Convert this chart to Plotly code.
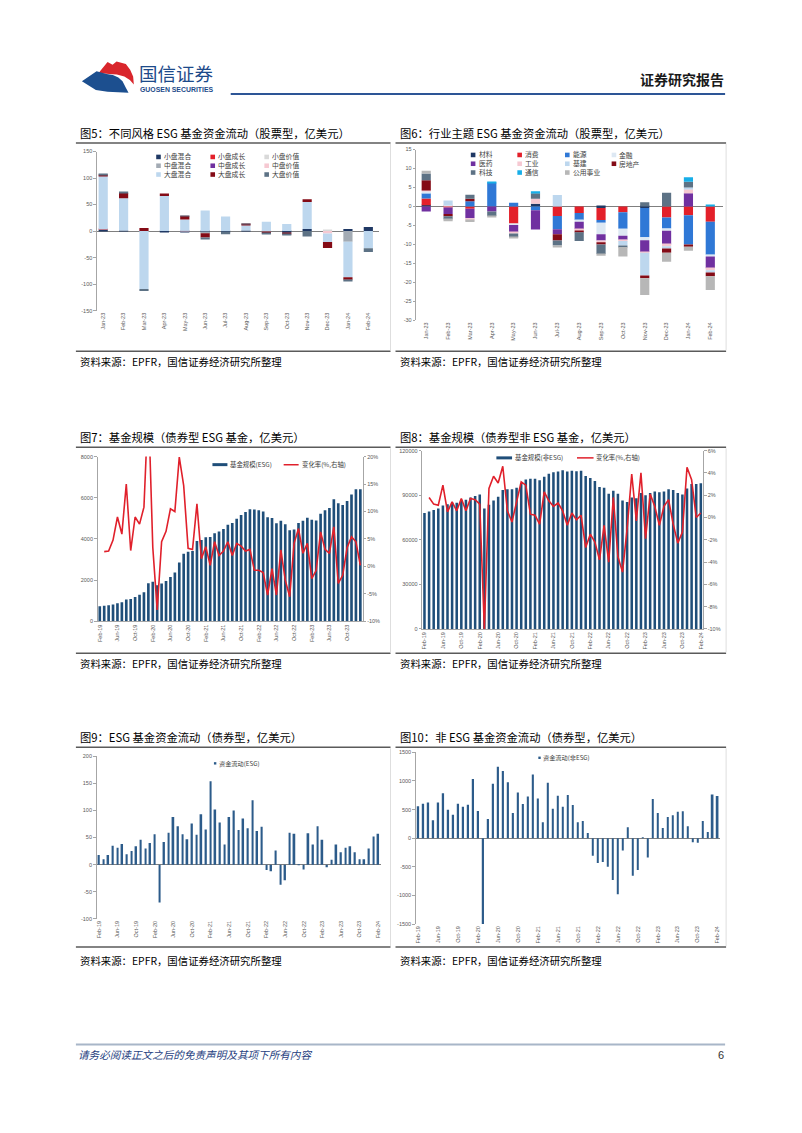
import plotly.graph_objects as go

W, H = 802, 1133

# ------------------------------------------------------------------ data
MONTHS_5 = ["Jan-23", "Feb-23", "Mar-23", "Apr-23", "May-23", "Jun-23", "Jul-23",
            "Aug-23", "Sep-23", "Oct-23", "Nov-23", "Dec-23", "Jan-24", "Feb-24"]

# Fig5: style flows (equity ESG funds, 100m USD)
STYLE_NAMES = ["小盘混合", "小盘成长", "小盘价值", "中盘混合", "中盘成长", "中盘价值",
               "大盘混合", "大盘成长", "大盘价值"]
STYLE_COLORS = ["#1f3864", "#e3202a", "#d9d9d9", "#a3abb4", "#7030a0", "#f6c9d2",
                "#bdd7ee", "#840b16", "#5d7285"]
small_blend = [3, 1, 0, -1.5, -1, -1, -1, 1, 0, -3, 4, 0, 4, 7.5]
small_growth = [0.5, 0, 0, 0, 0, 0, 0, 0, 0, 0, 0, 0, 0, 0]
small_value = [0, 0, 0, 0, 0, 0, 0, 0, 0, 0, 0, 2, 0, 0]
mid_blend = [0, 0, 0, 0, 0, -3, 0, 0, -1, 0, 0, 0, -20, 0]
mid_growth = [0, 0, 0, 0, 0, 0, 0, 0, 0, 0, 0, 0, 0, 0]
mid_value = [0, 0, 0, 0, 0.8, 0, 0, 0, 0, 0, 0, -4.4, 0, 0]
large_blend = [100, 61, -109, 66, 21, 39, 27.5, 10, 17.5, 13.5, 51, -16, -67, -32.5]
large_growth = [1.5, 10, 6, 5, 7, -8, 0, 1.5, -3, -3, 5, -11.5, -4.5, 0]
large_value = [2, 2, -4, 0, 0.5, -4, -5, 1, -1, -1, -10, 0, -3, -7]
STYLE_SERIES = [small_blend, small_growth, small_value, mid_blend, mid_growth, mid_value,
                large_blend, large_growth, large_value]
STYLE_TICKS = [-150, -100, -50, 0, 50, 100, 150]

# Fig6: sector flows (equity ESG funds, 100m USD)
SECTOR_NAMES = ["材料", "消费", "能源", "金融", "医药", "工业", "基建", "房地产",
                "科技", "通信", "公用事业"]
SECTOR_COLORS = ["#1f3864", "#e3202a", "#2f78d6", "#dde8f3", "#7030a0", "#f6c9d2",
                 "#bdd7ee", "#840b16", "#5d7285", "#17aee8", "#b7b7b7"]
materials = [0.3, 0, 0, 0, 0, 0.7, 0, 0, -0.4, 0, -0.4, 0, 0, 0]
consumer = [1.8, -0.3, -0.6, 0, -4.5, 0, -2.5, -1.7, -3.2, -1.5, 0, -2.9, -2.3, -4.0]
energy = [1.4, 0, 1.4, 6.3, 1.0, -1.0, -3.5, -1.9, -0.7, -4.4, -7.7, -2.9, -7.7, -8.7]
financials = [0.5, 0.3, 0, 0, -0.4, 0, 0, -0.4, -3.0, -1.8, -0.8, -0.6, 0, -0.5]
healthcare = [-1.3, -1.7, -2.5, -1.3, -1.9, -5.1, -1.3, -2.0, -1.7, -1.1, -3.1, -3.6, 3.5, -3.1]
industrials = [0.2, 0, -0.6, 0, -0.3, 1.3, 0, -0.4, -0.4, -0.3, -0.2, -0.5, 1.0, -0.5]
infrastructure = [0, 1.3, 0, 0, 0, 0, 3.0, 0, 0, -1.2, -6.0, -0.6, 0.5, -0.6]
real_estate = [2.7, -0.6, 0.6, 0, 0, 0, -1.7, -0.4, -0.6, 0, -0.7, -1.1, -0.6, -1.0]
technology = [1.8, -0.8, 1.1, -1.2, -1.0, 1.5, -1.3, -2.3, -2.5, -0.4, 1.1, 3.6, 1.5, 0]
telecom = [0, 0, 0, 0.1, 0, 0.5, 0, 0, 0, 0, 0, 0, 1.2, 0.3]
utilities = [0.7, -0.5, -0.4, -0.3, -0.3, 0, -0.5, 0, -0.5, -2.5, -4.4, -2.4, -1.1, -3.6]
SECTOR_SERIES = [materials, consumer, energy, financials, healthcare, industrials,
                 infrastructure, real_estate, technology, telecom, utilities]
SECTOR_TICKS = [-30, -25, -20, -15, -10, -5, 0, 5, 10, 15]

# Monthly categories Feb-19 .. Feb-24
MONTHS = ["Feb-19", "Mar-19", "Apr-19", "May-19", "Jun-19", "Jul-19", "Aug-19", "Sep-19",
          "Oct-19", "Nov-19", "Dec-19",
          "Jan-20", "Feb-20", "Mar-20", "Apr-20", "May-20", "Jun-20", "Jul-20", "Aug-20",
          "Sep-20", "Oct-20", "Nov-20", "Dec-20",
          "Jan-21", "Feb-21", "Mar-21", "Apr-21", "May-21", "Jun-21", "Jul-21", "Aug-21",
          "Sep-21", "Oct-21", "Nov-21", "Dec-21",
          "Jan-22", "Feb-22", "Mar-22", "Apr-22", "May-22", "Jun-22", "Jul-22", "Aug-22",
          "Sep-22", "Oct-22", "Nov-22", "Dec-22",
          "Jan-23", "Feb-23", "Mar-23", "Apr-23", "May-23", "Jun-23", "Jul-23", "Aug-23",
          "Sep-23", "Oct-23", "Nov-23", "Dec-23",
          "Jan-24", "Feb-24"]
MONTH_TICKS_7 = ["Feb-19", "Jun-19", "Oct-19", "Feb-20", "Jun-20", "Oct-20", "Feb-21",
                 "Jun-21", "Oct-21", "Feb-22", "Jun-22", "Oct-22", "Feb-23", "Jun-23", "Oct-23"]
MONTH_TICKS = MONTH_TICKS_7 + ["Feb-24"]
MONTHS_7 = MONTHS[:60]

# Fig7: ESG bond fund AUM (100m USD) and monthly change (%)
esg_aum = [740, 760, 780, 820, 880, 930, 1060, 1090, 1190, 1290, 1420,
           1850, 1920, 1760, 1840, 1960, 2160, 2380, 2860, 3280, 3380, 3420, 3900,
           3950, 4090, 4100, 4280, 4370, 4490, 4690, 4780, 4980, 5160, 5310, 5450,
           5430, 5390, 5330, 5050, 5020, 4760, 4880, 4720, 4430, 4460, 4780, 4880,
           5030, 4930, 4900, 5230, 5400, 5510, 5930, 5730, 5650, 5840, 6160, 6420,
           6420]
esg_aum_chg = [None, 2.7, 2.8, 4.8, 9.0, 5.9, 15.0, 2.9, 9.0, 7.7, 10.8,
               30.0, 3.5, -7.9, 4.5, 6.4, 10.5, 10.0, 19.9, 14.7, 3.3, 3.1, 11.4,
               1.4, 3.6, 0.2, 4.5, 2.0, 2.8, 4.5, 2.0, 4.2, 3.7, 2.8, 3.1,
               -0.7, -0.7, -1.1, -5.2, -0.4, -5.2, 3.0, -2.5, -5.5, 4.2, 6.9, 2.4,
               4.2, -2.2, -0.7, 6.3, 3.1, 2.4, 7.2, -3.1, -1.6, 3.4, 5.4, 4.5,
               0.2]
AUM7_TICKS = [0, 2000, 4000, 6000, 8000]
CHG7_TICKS = [-10, -5, 0, 5, 10, 15, 20]

# Fig8: non-ESG bond fund AUM (100m USD) and monthly change (%)
non_esg_aum = [78000, 79000, 80000, 81000, 83000, 84000, 85000, 85000, 87000, 87000, 88500,
               89500, 90500, 81000, 83500, 86500, 89000, 93500, 94000, 94000, 95000, 98000, 100500,
               101000, 101000, 100000, 102500, 104500, 105500, 106000, 106800, 106000, 106500, 106200, 106500,
               103000, 101500, 99500, 95500, 95000, 91000, 93000, 91000, 86500, 85500, 88500, 88000,
               91500, 90000, 91500, 92500, 92000, 92500, 94000, 93500, 91500, 90500, 94500, 97500,
               97500, 98000]
non_esg_chg = [None, 1.8, 1.2, 1.1, 2.9, 0.5, 1.4, 0.6, 1.7, 0.6, 1.7,
               1.6, 1.2, -10.0, 2.6, 3.7, 3.1, 4.6, 0.6, -0.4, 1.5, 3.2, 2.9,
               0.3, 0.2, -0.6, 2.3, 1.5, 1.0, 1.3, 0.6, -0.7, 0.4, -0.2, 0.2,
               -2.7, -1.5, -2.2, -3.8, -0.7, -4.0, 1.8, -3.5, -4.9, -1.0, 3.9, -0.3,
               4.0, -1.9, 2.1, 1.0, -0.7, 1.0, 1.6, -0.6, -2.3, -1.3, 4.5, 3.4,
               0.0, 0.4]
AUM8_TICKS = [0, 30000, 60000, 90000, 120000]
CHG8_TICKS = [-10, -8, -6, -4, -2, 0, 2, 4, 6]

# Fig9: ESG bond fund flows (100m USD)
esg_flow = [18, 10, 18, 35, 31, 38, 19, 25, 34, 46, 30,
            40, 56, -70, 42, 59, 88, 71, 56, 47, 76, 55, 93,
            65, 154, 102, 78, 37, 88, 100, 64, 85, 67, 119, 62,
            70, -10, -12, 26, -37, -29, 59, 57, -1, -9, 58, 37,
            71, 46, -5, 9, 37, 23, 31, 34, 23, 10, 10, 30,
            52, 57]
FLOW9_TICKS = [-100, -50, 0, 50, 100, 150, 200]

# Fig10: non-ESG bond fund flows (100m USD)
non_esg_flow = [560, 600, 625, 313, 625, 787, 498, 411, 602, 550, 585,
                1036, 475, -1510, 336, 950, 1250, 1175, 979, 440, 800, 596, 730,
                1112, 695, 278, 967, 515, 741, 550, 753, 579, 278, 301, 93,
                -307, -434, -417, -498, -730, -979, -214, 191, -654, -556, 10, -336,
                683, 440, 180, 371, 400, 463, 469, 208, -69, -81, 301, 110,
                764, 735]
FLOW10_TICKS = [-1500, -1000, -500, 0, 500, 1000, 1500]

# ------------------------------------------------------------------ helpers
def px(x):
    return x / W


def py(y):
    return 1 - y / H


CJK = "Noto Sans CJK SC"
LAT = "Liberation Sans, Arial, sans-serif"
TICKFONT = dict(family=LAT, size=5.5, color="#595959")
AXCOL = "#a6a6a6"
BAR_NAVY = "#1f4e79"
BAR_BLUE = "#2c5b8a"
RED_LINE = "#e0202b"

fig = go.Figure()

# Fig5 bars
for name, vals, col in zip(STYLE_NAMES, STYLE_SERIES, STYLE_COLORS):
    fig.add_trace(go.Bar(x=MONTHS_5, y=vals, name=name, width=0.45,
                         marker=dict(color=col, line=dict(width=0)),
                         xaxis="x", yaxis="y", showlegend=False))
# Fig6 bars
for name, vals, col in zip(SECTOR_NAMES, SECTOR_SERIES, SECTOR_COLORS):
    fig.add_trace(go.Bar(x=MONTHS_5, y=vals, name=name, width=0.42,
                         marker=dict(color=col, line=dict(width=0)),
                         xaxis="x2", yaxis="y2", showlegend=False))
# Fig7
fig.add_trace(go.Bar(x=MONTHS_7, y=esg_aum, name="基金规模(ESG)", width=0.6,
                     marker=dict(color=BAR_NAVY, line=dict(width=0)),
                     xaxis="x3", yaxis="y3", showlegend=False))
fig.add_trace(go.Scatter(x=MONTHS_7, y=esg_aum_chg, name="变化率(%,右轴)", mode="lines",
                         line=dict(color=RED_LINE, width=1.6), connectgaps=False,
                         xaxis="x3", yaxis="y4", showlegend=False))
# Fig8
fig.add_trace(go.Bar(x=MONTHS, y=non_esg_aum, name="基金规模(非ESG)", width=0.55,
                     marker=dict(color=BAR_NAVY, line=dict(width=0)),
                     xaxis="x4", yaxis="y5", showlegend=False))
fig.add_trace(go.Scatter(x=MONTHS, y=non_esg_chg, name="变化率(%,右轴)", mode="lines",
                         line=dict(color=RED_LINE, width=1.6),
                         xaxis="x4", yaxis="y6", showlegend=False))
# Fig9
fig.add_trace(go.Bar(x=MONTHS, y=esg_flow, name="资金流动(ESG)", width=0.36,
                     marker=dict(color=BAR_BLUE, line=dict(width=0)),
                     xaxis="x5", yaxis="y7", showlegend=False))
# Fig10
fig.add_trace(go.Bar(x=MONTHS, y=non_esg_flow, name="资金流动(非ESG)", width=0.34,
                     marker=dict(color=BAR_BLUE, line=dict(width=0)),
                     xaxis="x6", yaxis="y8", showlegend=False))


def xcat(dom, anchor, rng, tickvals=None, showline=False):
    d = dict(domain=[px(dom[0]), px(dom[1])], anchor=anchor, type="category",
             range=rng, tickangle=-90, tickfont=TICKFONT, showgrid=False,
             zeroline=False, showline=showline, linecolor=AXCOL, linewidth=1,
             ticks="", fixedrange=True)
    if tickvals is not None:
        d["tickmode"] = "array"
        d["tickvals"] = tickvals
        d["ticktext"] = tickvals
    return d


def yval(dom, anchor, rng, tickvals, ticktext=None, zeroline=False, side="left",
         overlaying=None):
    d = dict(anchor=anchor, range=rng, tickmode="array", tickvals=tickvals,
             ticktext=ticktext if ticktext is not None else [str(v) for v in tickvals],
             tickfont=TICKFONT, showgrid=False, showline=True, linecolor=AXCOL,
             linewidth=1, ticks="outside", ticklen=2.5, tickcolor=AXCOL,
             zeroline=zeroline, zerolinecolor="#7f7f7f", zerolinewidth=1,
             side=side, fixedrange=True)
    if overlaying:
        d["overlaying"] = overlaying
    else:
        d["domain"] = [py(dom[1]), py(dom[0])]
    return d


layout = dict(
    width=W, height=H, margin=dict(l=0, r=0, t=0, b=0),
    paper_bgcolor="white", plot_bgcolor="rgba(0,0,0,0)",
    barmode="relative", font=dict(family=CJK, color="#000"),
    showlegend=False,
    xaxis=xcat((96, 378), "y", [-0.31, 13.5]),
    yaxis=yval((149.3, 309.3), "x", [-150, 150], STYLE_TICKS, zeroline=True),
    xaxis2=xcat((415.7, 723.3), "y2", [-0.46, 13.6]),
    yaxis2=yval((147.3, 319), "x2", [-30, 15], SECTOR_TICKS, zeroline=True),
    xaxis3=xcat((96.7, 362), "y3", [-0.5, 59.5], MONTH_TICKS_7, showline=True),
    yaxis3=yval((456, 621.7), "x3", [0, 8000], AUM7_TICKS),
    yaxis4=yval(None, "x3", [-10, 20], CHG7_TICKS, [f"{v}%" for v in CHG7_TICKS],
                side="right", overlaying="y3"),
    xaxis4=xcat((421.7, 703), "y5", [-0.5, 60.5], MONTH_TICKS, showline=True),
    yaxis5=yval((450, 629.3), "x4", [0, 120000], AUM8_TICKS),
    yaxis6=yval(None, "x4", [-10, 6], CHG8_TICKS, [f"{v}%" for v in CHG8_TICKS],
                side="right", overlaying="y5"),
    xaxis5=xcat((95.7, 380), "y7", [-0.5, 60.5], MONTH_TICKS),
    yaxis7=yval((757.3, 920.7), "x5", [-100, 200], FLOW9_TICKS, zeroline=True),
    xaxis6=xcat((415.3, 720), "y8", [-0.5, 60.5], MONTH_TICKS),
    yaxis8=yval((753.3, 926), "x6", [-1500, 1500], FLOW10_TICKS, zeroline=True),
)

shapes = []
annotations = []


def hline(x0, x1, y, color, width):
    shapes.append(dict(type="line", xref="paper", yref="paper", x0=px(x0), x1=px(x1),
                       y0=py(y), y1=py(y), line=dict(color=color, width=width)))


def vline(x, y0, y1, color, width):
    shapes.append(dict(type="line", xref="paper", yref="paper", x0=px(x), x1=px(x),
                       y0=py(y0), y1=py(y1), line=dict(color=color, width=width)))


def rect(x0, y0, x1, y1, color):
    shapes.append(dict(type="rect", xref="paper", yref="paper", x0=px(x0), x1=px(x1),
                       y0=py(y1), y1=py(y0), fillcolor=color, line=dict(width=0)))


def poly(points, color):
    path = "M " + " L ".join(f"{px(x):.5f},{py(y):.5f}" for x, y in points) + " Z"
    shapes.append(dict(type="path", xref="paper", yref="paper", path=path,
                       fillcolor=color, line=dict(width=0)))


def text(x, y, s, size, color="#000", anchor="left", family=CJK, align="left", **fkw):
    annotations.append(dict(x=px(x), y=py(y), xref="paper", yref="paper", text=s,
                            showarrow=False, xanchor=anchor, yanchor="middle",
                            align=align,
                            font=dict(family=family, size=size, color=color, **fkw),
                            borderpad=0))


# ---------------- header
poly([(97.7, 70.3), (106.7, 59.3), (111.7, 62), (115.7, 58.7), (125, 61.3), (129.3, 67),
      (132.3, 74), (133, 82), (129, 77.5), (123.5, 74), (116, 72), (108.3, 71.3)], "#d9262c")
poly([(81, 78.7), (95.7, 68.7), (105.7, 71.3), (112, 72.5), (117.5, 75), (121.7, 78.7),
      (125, 85.3), (127.7, 90.3), (106.7, 89.2), (95, 87.5)], "#1c4f8f")
text(137, 70.5, "国信证券", 18.5, "#1d4a8a")
text(138.5, 87.2, "GUOSEN SECURITIES", 6.9, "#1d4a8a", family=LAT, weight="bold")
text(725, 76, "<b>证券研究报告</b>", 14, "#1a1a1a", anchor="right")
hline(230, 725, 91.5, "#2d5596", 2)

# ---------------- footer
hline(75, 725, 1047, "#a8b6c8", 2)
text(76, 1057.5, "请务必阅读正文之后的免责声明及其项下所有内容", 10.6, "#1f3f7f", style="italic")
text(725, 1057.5, "6", 11, "#333", anchor="right", family=LAT)

# ---------------- panel frames / titles / sources
TITLES = ["图5：不同风格 ESG 基金资金流动（股票型，亿美元）",
          "图6：行业主题 ESG 基金资金流动（股票型，亿美元）",
          "图7：基金规模（债券型 ESG 基金，亿美元）",
          "图8：基金规模（债券型非 ESG 基金，亿美元）",
          "图9：ESG 基金资金流动（债券型，亿美元）",
          "图10：非 ESG 基金资金流动（债券型，亿美元）"]
SOURCE = "资料来源：EPFR，国信证券经济研究所整理"
rows = [(130.7, 140.7, 350.0, 360.7), (436.7, 446.7, 653.7, 664.0), (738.3, 748.3, 949.0, 962.3)]
cols = [(75, 390, 78.3), (395, 726, 398.3)]
i = 0
for (ty, tl, sl, sy) in rows:
    for (x0, x1, tx) in cols:
        text(tx, ty, TITLES[i], 11.3, "#000")
        hline(x0, x1, tl, "#5a5a5a", 1.5)
        hline(x0, x1, sl, "#5a5a5a", 1.5)
        vline(x1, tl + 1, sl - 1, "#dedede", 1)
        text(tx, sy, SOURCE, 10.4, "#000")
        i += 1


# ---------------- legends (drawn from the series names / colours)
def grid_legend(names, colors, col_x, mid_y, ncol, fsize, msize):
    """One multi-line text per legend column, markers at the line positions."""
    nrow = (len(names) + ncol - 1) // ncol
    step = 1.3 * fsize
    for c in range(ncol):
        idx = list(range(c, len(names), ncol))
        lines = [names[k] for k in idx]
        top = mid_y - step * (nrow - 1) / 2
        block_mid = top + step * (len(lines) - 1) / 2
        text(col_x[c] + msize / 2 + 2.2, block_mid, "<br>".join(lines), fsize, "#404040")
        for r, k in enumerate(idx):
            cy = top + r * step + 0.3
            rect(col_x[c] - msize / 2, cy - msize / 2, col_x[c] + msize / 2, cy + msize / 2,
                 colors[k])


grid_legend(STYLE_NAMES, STYLE_COLORS, [157.7, 212.0, 266.0], 163.3, 3, 6.8, 4.6)
grid_legend(SECTOR_NAMES, SECTOR_COLORS, [472.7, 519.3, 567.0, 613.7], 161.3, 4, 6.8, 4.6)

# Fig7 legend
rect(211.7, 462.6, 226.7, 465.6, BAR_NAVY)
text(228.5, 464.2, "基金规模(ESG)", 6.4, "#404040")
hline(283, 298, 464.2, RED_LINE, 1.5)
text(300.5, 464.2, "变化率(%,右轴)", 6.4, "#404040")
# Fig8 legend
rect(496, 455.8, 511.7, 458.8, BAR_NAVY)
text(513.5, 457.3, "基金规模(非ESG)", 6.4, "#404040")
hline(576.7, 593.3, 457.3, RED_LINE, 1.5)
text(595, 457.3, "变化率(%,右轴)", 6.4, "#404040")
# Fig9 legend
rect(213.2, 763.2, 215.6, 765.6, BAR_BLUE)
text(216.8, 764.4, "资金流动(ESG)", 6.2, "#404040")
# Fig10 legend
rect(538, 757.6, 540.4, 760.0, BAR_BLUE)
text(541.5, 758.8, "资金流动(非ESG)", 6.2, "#404040")

layout["shapes"] = shapes
layout["annotations"] = annotations
fig.update_layout(**layout)

fig.write_html("out.html", config={"displayModeBar": False},
               post_script="document.body.style.margin='0px';document.body.style.padding='0px';")
